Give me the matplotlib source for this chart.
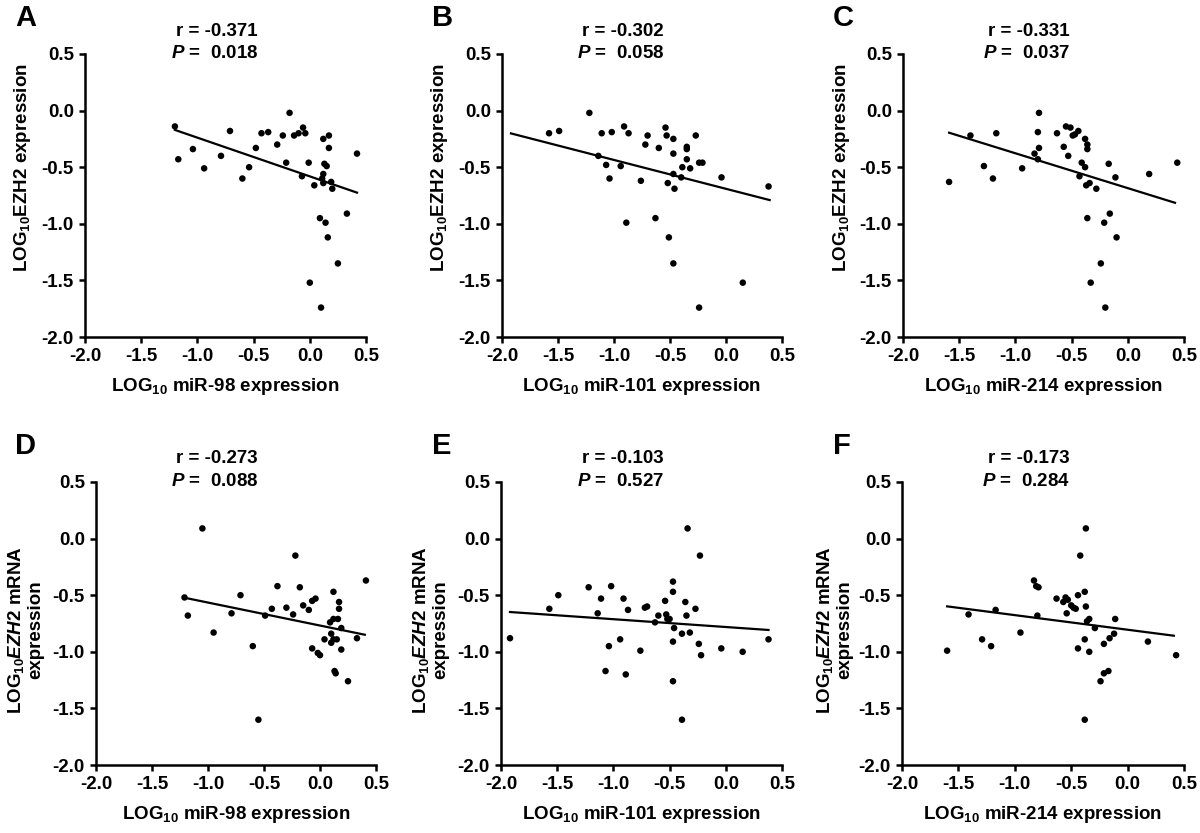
import matplotlib
matplotlib.use('Agg')
import matplotlib.pyplot as plt
import numpy as np

plt.rcParams['font.family'] = 'Liberation Sans'
plt.rcParams['font.weight'] = 'bold'
plt.rcParams['mathtext.fontset'] = 'custom'
plt.rcParams['mathtext.rm'] = 'Liberation Sans:bold'
plt.rcParams['mathtext.it'] = 'Liberation Sans:italic:bold'
plt.rcParams['mathtext.bf'] = 'Liberation Sans:bold'

#-----DATA-----#
# A: miR-98 vs EZH2 protein
a_x = [-1.20, -1.17, -1.04, -0.94, -0.79, -0.71, -0.60, -0.54, -0.48, -0.43,
       -0.37, -0.29, -0.24, -0.21, -0.18, -0.14, -0.10, -0.06, -0.04, -0.07,
       -0.01, 0.04, 0.12, 0.17, 0.17, 0.13, 0.15, 0.12, 0.11, 0.12,
       0.19, 0.20, 0.42, 0.09, 0.14, 0.16, 0.33, 0.25, 0.00, 0.10]
a_y = [-0.14, -0.43, -0.34, -0.51, -0.40, -0.18, -0.60, -0.50, -0.33, -0.20,
       -0.19, -0.30, -0.22, -0.46, -0.02, -0.22, -0.20, -0.15, -0.20, -0.58,
       -0.46, -0.66, -0.25, -0.22, -0.33, -0.47, -0.49, -0.56, -0.60, -0.64,
       -0.63, -0.69, -0.38, -0.95, -0.99, -1.12, -0.91, -1.35, -1.52, -1.74]

# B: miR-101 vs EZH2 protein
b_x = [-1.58, -1.49, -1.22, -1.11, -1.02, -0.91, -0.87, -1.14, -1.07, -0.94,
       -1.04, -0.72, -0.70, -0.76, -0.60, -0.54, -0.53, -0.47, -0.47, -0.35,
       -0.35, -0.27, -0.35, -0.24, -0.21, -0.39, -0.32, -0.47, -0.40, -0.52,
       -0.46, -0.04, 0.38, -0.63, -0.89, -0.51, -0.47, 0.15, -0.24]
b_y = [-0.20, -0.18, -0.02, -0.20, -0.19, -0.14, -0.20, -0.40, -0.48, -0.49,
       -0.60, -0.30, -0.22, -0.62, -0.33, -0.15, -0.22, -0.25, -0.38, -0.32,
       -0.34, -0.22, -0.43, -0.46, -0.46, -0.50, -0.51, -0.56, -0.59, -0.64,
       -0.69, -0.59, -0.67, -0.95, -0.99, -1.12, -1.35, -1.52, -1.74]

# C: miR-214 vs EZH2 protein
c_x = [-1.59, -1.40, -1.28, -1.20, -1.17, -0.94, -0.83, -0.80, -0.79, -0.79,
       -0.80, -0.63, -0.57, -0.53, -0.55, -0.51, -0.49, -0.47, -0.44, -0.38,
       -0.36, -0.36, -0.41, -0.38, -0.43, -0.34, -0.37, -0.28, -0.17, -0.11,
       0.19, 0.44, -0.36, -0.16, -0.21, -0.10, -0.24, -0.33, -0.20]
c_y = [-0.63, -0.22, -0.49, -0.60, -0.20, -0.51, -0.38, -0.19, -0.02, -0.33,
       -0.43, -0.20, -0.32, -0.40, -0.14, -0.15, -0.22, -0.21, -0.18, -0.25,
       -0.30, -0.34, -0.46, -0.50, -0.58, -0.64, -0.66, -0.69, -0.47, -0.59,
       -0.56, -0.46, -0.95, -0.91, -0.99, -1.12, -1.35, -1.52, -1.74]

# D: miR-98 vs EZH2 mRNA
d_x = [-1.21, -1.18, -1.05, -0.95, -0.79, -0.71, -0.60, -0.55, -0.49, -0.43,
       -0.38, -0.30, -0.24, -0.22, -0.18, -0.15, -0.10, -0.07, -0.04, -0.07,
       -0.02, 0.00, 0.04, 0.10, 0.10, 0.12, 0.15, 0.09, 0.12, 0.16,
       0.12, 0.17, 0.17, 0.19, 0.19, 0.13, 0.14, 0.25, 0.33, 0.41]
d_y = [-0.52, -0.68, 0.09, -0.83, -0.66, -0.50, -0.95, -1.60, -0.68, -0.62,
       -0.42, -0.61, -0.67, -0.15, -0.43, -0.59, -0.63, -0.55, -0.53, -0.97,
       -1.01, -1.03, -0.89, -0.84, -0.92, -0.89, -0.89, -0.74, -0.71, -0.71,
       -0.47, -0.56, -0.62, -0.79, -0.98, -1.17, -1.19, -1.26, -0.88, -0.37]

# E: miR-101 vs EZH2 mRNA
e_x = [-1.92, -1.57, -1.49, -1.22, -1.14, -1.11, -1.02, -1.04, -1.07, -0.94,
       -0.91, -0.89, -0.87, -0.76, -0.72, -0.70, -0.63, -0.60, -0.54, -0.53,
       -0.52, -0.50, -0.47, -0.47, -0.46, -0.47, -0.47, -0.39, -0.39, -0.36,
       -0.35, -0.32, -0.34, -0.27, -0.24, -0.22, -0.23, -0.04, 0.15, 0.38]
e_y = [-0.88, -0.62, -0.50, -0.43, -0.66, -0.53, -0.42, -0.95, -1.17, -0.89,
       -0.53, -1.20, -0.63, -0.99, -0.61, -0.60, -0.74, -0.68, -0.55, -0.67,
       -0.71, -0.71, -0.47, -0.38, -0.79, -0.91, -1.26, -0.84, -1.60, -0.56,
       -0.68, -0.83, 0.09, -0.62, -0.93, -1.03, -0.15, -0.97, -1.00, -0.89]

# F: miR-214 vs EZH2 mRNA
f_x = [-1.60, -1.41, -1.29, -1.21, -1.17, -0.95, -0.83, -0.81, -0.79, -0.80,
       -0.63, -0.57, -0.55, -0.53, -0.50, -0.48, -0.46, -0.54, -0.44, -0.38,
       -0.37, -0.42, -0.37, -0.36, -0.34, -0.29, -0.38, -0.44, -0.34, -0.38,
       -0.21, -0.16, -0.12, -0.11, -0.24, -0.21, -0.17, 0.18, 0.43]
f_y = [-0.99, -0.67, -0.89, -0.95, -0.63, -0.83, -0.37, -0.42, -0.43, -0.68,
       -0.53, -0.56, -0.52, -0.54, -0.59, -0.61, -0.62, -0.66, -0.50, -0.47,
       -0.60, -0.15, 0.09, -0.73, -0.71, -0.79, -0.89, -0.97, -1.00, -1.60,
       -0.93, -0.88, -0.84, -0.71, -1.26, -1.19, -1.17, -0.91, -1.03]

# fitted regression lines: slope, intercept, x range
fit_slope = [-0.342, -0.255, -0.308, -0.203, -0.069, -0.129]
fit_icept = [-0.581, -0.691, -0.685, -0.768, -0.781, -0.805]
fit_xmin = [-1.20, -1.92, -1.59, -1.21, -1.92, -1.60]
fit_xmax = [0.42, 0.39, 0.42, 0.40, 0.38, 0.41]

letters = ['A', 'B', 'C', 'D', 'E', 'F']
r_values = ['-0.371', '-0.302', '-0.331', '-0.273', '-0.103', '-0.173']
p_values = ['0.018', '0.058', '0.037', '0.088', '0.527', '0.284']
mirnas = ['miR-98', 'miR-101', 'miR-214', 'miR-98', 'miR-101', 'miR-214']
xs = [a_x, b_x, c_x, d_x, e_x, f_x]
ys = [a_y, b_y, c_y, d_y, e_y, f_y]

ticks = [-2.0, -1.5, -1.0, -0.5, 0.0, 0.5]
ylab_top = r'LOG$_{10}$EZH2 expression'
ylab_bottom = 'LOG$_{10}$$\\mathit{EZH2}$ mRNA\nexpression'

#-----LAYOUT (pixels)-----#
W, H = 1200, 833
# left, right, top, bottom of each axes box
boxes = [(85, 366, 54, 337), (502, 782, 54, 337), (903, 1184, 54, 337),
         (96, 376, 482, 765), (501, 782, 482, 765), (902, 1184, 482, 765)]
letter_pos = [(15, 18), (432, 18), (833, 18), (15, 446), (432, 446), (833, 446)]
stat_right = [258, 664, 1070, 258, 664, 1070]
ylab_x = [23, 440, 842, 25, 430, 834]


def fx(px):
    return px / W


def fy(py):
    return 1 - py / H


fig = plt.figure(figsize=(12, 8.33), dpi=100)

for i in range(6):
    l, r, t, b = boxes[i]
    ax = fig.add_axes([fx(l), fy(b), (r - l) / W, (b - t) / H])
    x = np.array(xs[i])
    y = np.array(ys[i])
    ax.scatter(x, y, s=22, color='black', edgecolors='none', zorder=3, clip_on=False)
    # regression line
    xl = np.array([fit_xmin[i], fit_xmax[i]])
    ax.plot(xl, fit_slope[i] * xl + fit_icept[i], color='black', lw=1.6, zorder=2)

    ax.set_xlim(-2.0, 0.5)
    ax.set_ylim(-2.0, 0.5)
    ax.set_xticks(ticks)
    ax.set_yticks(ticks)
    ax.set_xticklabels([f'{v:.1f}' for v in ticks])
    ax.set_yticklabels([f'{v:.1f}' for v in ticks])
    for s in ['top', 'right']:
        ax.spines[s].set_visible(False)
    for s in ['left', 'bottom']:
        ax.spines[s].set_linewidth(1.8)
    ax.tick_params(direction='out', length=4, width=1.8, labelsize=13.5, pad=4)
    for lab in ax.get_xticklabels() + ax.get_yticklabels():
        lab.set_fontweight('bold')
    ax.patch.set_alpha(0)

    ax.set_xlabel(f'LOG$_{{10}}$ {mirnas[i]} expression', fontsize=13.5,
                  fontweight='bold', labelpad=8)

    # y label
    if i < 3:
        fig.text(fx(ylab_x[i]), fy(168), ylab_top, rotation=90, ha='center',
                 va='center', fontsize=13.5, fontweight='bold')
    else:
        fig.text(fx(ylab_x[i]), fy(630), ylab_bottom, rotation=90, ha='center',
                 va='center', fontsize=13.5, fontweight='bold', linespacing=1.1)

    # panel letter
    lx, ly = letter_pos[i]
    fig.text(fx(lx), fy(ly), letters[i], ha='left', va='center', fontsize=21,
             fontweight='bold')

    # stats
    ry = 31 if i < 3 else 459
    fig.text(fx(stat_right[i]), fy(ry), f'r = {r_values[i]}', ha='right',
             va='center', fontsize=13.5, fontweight='bold')
    fig.text(fx(stat_right[i]), fy(ry + 23), f'$\\mathit{{P}}$ =  {p_values[i]}',
             ha='right', va='center', fontsize=13.5, fontweight='bold')

fig.savefig('out.png', dpi=100)
